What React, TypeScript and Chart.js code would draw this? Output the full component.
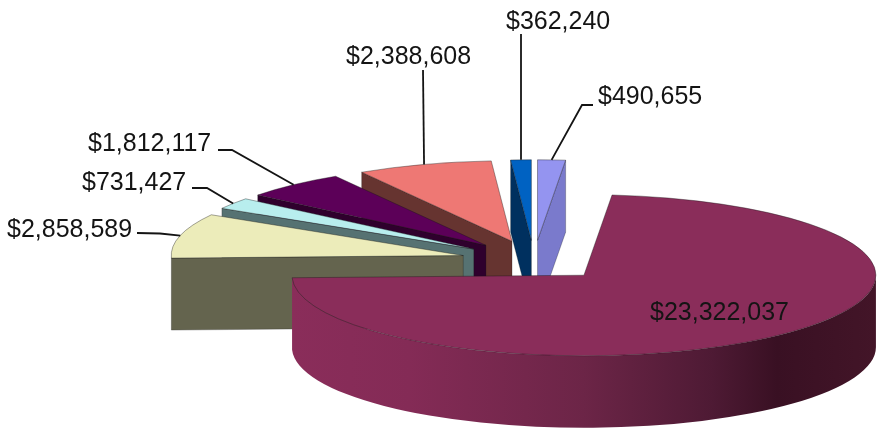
import React, { useEffect, useRef } from "react";
import { Chart, registerables } from "chart.js";

Chart.register(...registerables);

// ---- data (clockwise from 12 o'clock) ----
const categories = ["A", "B", "C", "D", "E", "F", "G"];
const seriesValues = [490655, 23322037, 2858589, 731427, 1812117, 2388608, 362240];
const tickLabels = seriesValues.map((v) => "$" + v.toLocaleString("en-US"));

// ---- styles ----
const topColors = ["#9494f0", "#8a2d5a", "#ececba", "#b8eeee", "#5c0058", "#ee7874", "#0062c2"];
const wallColors = ["#7a7acc", "#8a2d5a", "#64644e", "#567272", "#2f002d", "#663430", "#00305f"];
const paintOrder = [0, 6, 5, 4, 3, 2, 1];
const explode = 73;
const pieRx = 292;
const squash = 0.276;
const depth = 72;
const bigWallStops: [number, string][] = [
  [0, "#8a2d5a"],
  [0.2, "#842b56"],
  [0.5, "#6c2547"],
  [0.72, "#4e1a34"],
  [0.83, "#391023"],
  [1, "#431528"],
];
// label [left, baseline], optional elbow start/end of the leader
const labelLayout: { x: number; y: number; from: [number, number]; elbow?: [number, number] }[] = [
  { x: 598, y: 104, from: [593, 105], elbow: [582, 105] },
  { x: 650, y: 320, from: [0, 0] },
  { x: 7, y: 237, from: [137, 233], elbow: [160, 233.5] },
  { x: 82, y: 190, from: [192, 188], elbow: [207, 188] },
  { x: 88, y: 151, from: [218, 150], elbow: [232, 150] },
  { x: 346, y: 64, from: [423, 70] },
  { x: 506, y: 29, from: [521, 34] },
];

const pie3d = {
  id: "pie3d",
  beforeDatasetsDraw(chart: any) {
    const ctx: CanvasRenderingContext2D = chart.ctx;
    const arcs = chart.getDatasetMeta(0).data;
    const rx = pieRx;
    const ry = pieRx * squash;

    const geom = (el: any) => {
      const p = el.getProps(["x", "y", "startAngle", "endAngle"], true);
      const mid = (p.startAngle + p.endAngle) / 2;
      const d = el.options.offset;
      return {
        s: p.startAngle,
        e: p.endAngle,
        mid,
        ax: p.x + Math.cos(mid) * d,
        ay: p.y + Math.sin(mid) * d * squash,
      };
    };

    const edgeWall = (g: any, a: number, color: string) => {
      const ox = g.ax + Math.cos(a) * rx;
      const oy = g.ay + Math.sin(a) * ry;
      ctx.beginPath();
      ctx.moveTo(g.ax, g.ay);
      ctx.lineTo(ox, oy);
      ctx.lineTo(ox, oy + depth);
      ctx.lineTo(g.ax, g.ay + depth);
      ctx.closePath();
      ctx.fillStyle = color;
      ctx.fill();
      ctx.strokeStyle = "rgba(20,20,20,0.45)";
      ctx.lineWidth = 0.6;
      ctx.stroke();
    };

    for (const i of paintOrder) {
      const g = geom(arcs[i]);
      ctx.save();
      if (Math.cos(g.s) < 0) edgeWall(g, g.s, wallColors[i]);
      if (Math.cos(g.e) > 1e-6) edgeWall(g, g.e, wallColors[i]);

      // outer wall: the part of the rim that faces the viewer
      for (const k of [0, 2]) {
        const lo = Math.max(g.s, k * Math.PI);
        const hi = Math.min(g.e, k * Math.PI + Math.PI);
        if (hi <= lo) continue;
        ctx.beginPath();
        ctx.ellipse(g.ax, g.ay, rx, ry, 0, lo, hi);
        ctx.ellipse(g.ax, g.ay + depth, rx, ry, 0, hi, lo, true);
        ctx.closePath();
        if (seriesValues[i] === Math.max(...seriesValues)) {
          const grad = ctx.createLinearGradient(g.ax - rx, 0, g.ax + rx, 0);
          bigWallStops.forEach(([o, c]) => grad.addColorStop(o, c));
          ctx.fillStyle = grad;
        } else {
          ctx.fillStyle = wallColors[i];
        }
        ctx.fill();
      }

      // top face
      ctx.beginPath();
      ctx.moveTo(g.ax, g.ay);
      ctx.ellipse(g.ax, g.ay, rx, ry, 0, g.s, g.e);
      ctx.closePath();
      ctx.fillStyle = topColors[i];
      ctx.fill();
      ctx.strokeStyle = "rgba(20,20,20,0.55)";
      ctx.lineWidth = 0.7;
      ctx.stroke();
      ctx.restore();
    }

    // leaders and labels
    ctx.save();
    ctx.font = "25px 'Liberation Sans', Arial, sans-serif";
    ctx.textBaseline = "alphabetic";
    ctx.textAlign = "left";
    arcs.forEach((el: any, i: number) => {
      const g = geom(el);
      const l = labelLayout[i];
      if (l.from[0] || l.from[1]) {
        ctx.beginPath();
        ctx.moveTo(l.from[0], l.from[1]);
        if (l.elbow) ctx.lineTo(l.elbow[0], l.elbow[1]);
        ctx.lineTo(g.ax + Math.cos(g.mid) * rx, g.ay + Math.sin(g.mid) * ry);
        ctx.strokeStyle = "#141414";
        ctx.lineWidth = 1.8;
        ctx.stroke();
      }
      ctx.fillStyle = "#141414";
      ctx.fillText(tickLabels[i], l.x, l.y);
    });
    ctx.restore();
    return false;
  },
};

export default function App() {
  const ref = useRef<HTMLCanvasElement>(null);
  useEffect(() => {
    const chart = new Chart(ref.current!, {
      type: "pie",
      data: {
        labels: categories,
        datasets: [
          {
            data: seriesValues,
            backgroundColor: topColors,
            borderWidth: 0,
            offset: explode,
          },
        ],
      },
      options: {
        animation: false,
        responsive: false,
        devicePixelRatio: 1,
        layout: { padding: { left: 189, top: 92, right: 0, bottom: 0 } },
        plugins: { legend: { display: false }, tooltip: { enabled: false } },
      },
      plugins: [pie3d],
    } as any);
    return () => chart.destroy();
  }, []);
  return (
    <div style={{ position: "absolute", left: 0, top: 0, width: 879, height: 429 }}>
      <canvas ref={ref} width={879} height={429} style={{ display: "block", filter: "blur(0.5px)" }} />
    </div>
  );
}
